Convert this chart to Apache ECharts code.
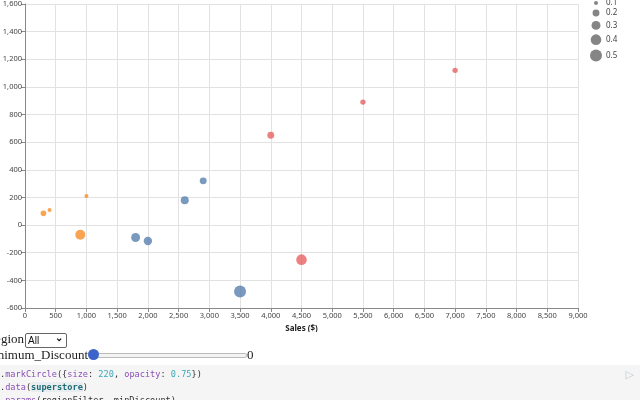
<!DOCTYPE html>
<html>
<head>
<meta charset="utf-8">
<script src="https://cdn.jsdelivr.net/npm/echarts@6/dist/echarts.min.js"></script>
<style>
  body { margin: 0; width: 640px; height: 400px; overflow: hidden; background: #fff; position: relative; }
  #chart { position: absolute; left: 0; top: 0; width: 640px; height: 332px; }
  .ctl { position: absolute; font-family: "Liberation Serif", "DejaVu Serif", serif; font-size: 13px; color: #222; white-space: nowrap; }
  #regionLbl { right: 616px; top: 331px; }
  #regionSel { position: absolute; left: 25px; top: 333px; width: 38px; height: 13px; border: 1px solid #666; border-radius: 2px;
    font-family: "Liberation Sans", sans-serif; font-size: 10px; line-height: 13px; padding-left: 2px; color: #111; background: #fff; }
  #regionSel span { position: absolute; right: 3px; top: -3px; font-size: 10px; font-weight: bold; }
  #discLbl { right: 552px; top: 347px; }
  #track { position: absolute; left: 90px; top: 353px; width: 155px; height: 3px; border: 1px solid #bbb; border-radius: 2px; background: #f3f3f3; }
  #knob { position: absolute; left: 88px; top: 349px; width: 11px; height: 11px; border-radius: 50%; background: #3b63c9; }
  #discVal { left: 247px; top: 347px; }
  #code { position: absolute; left: 0; top: 365px; width: 640px; height: 35px; background: #f5f5f5; }
  #code pre { margin: 0; position: absolute; left: 0; top: 3px; font-family: "DejaVu Sans Mono", monospace; font-size: 8.6px; line-height: 13px; color: #333; }
  .m { color: #8a4fb8; }
  .n { color: #3aa9b8; }
  .v { color: #1f6b75; font-weight: bold; background: #e8eef0; }
  #play { position: absolute; right: 6px; top: 3px; color: #c8c8c8; font-size: 11px; font-family: "DejaVu Sans", sans-serif; }
</style>
</head>
<body>
<div id="chart"></div>
<div class="ctl" id="regionLbl">Region</div>
<div id="regionSel">All<span>&#8964;</span></div>
<div class="ctl" id="discLbl">Minimum_Discount</div>
<div id="track"></div>
<div id="knob"></div>
<div class="ctl" id="discVal">0</div>
<div id="code"><pre>.<span class="m">markCircle</span>({<span class="m">size</span>: <span class="n">220</span>, <span class="m">opacity</span>: <span class="n">0.75</span>})
.<span class="m">data</span>(<span class="v">superstore</span>)
.<span class="m">params</span>(regionFilter, minDiscount)</pre><div id="play">&#9655;</div></div>
<script>
// 数据（按区域分组）：Sales, Profit, Discount
var centralSales = [300, 400, 1000, 900];
var centralProfit = [85, 110, 210, -70];
var centralDiscount = [0.15, 0.1, 0.1, 0.36];

var eastSales = [1800, 2000, 2600, 2900, 3500];
var eastProfit = [-90, -115, 180, 320, -480];
var eastDiscount = [0.3, 0.27, 0.25, 0.2, 0.5];

var westSales = [4000, 4500, 5500, 7000];
var westProfit = [650, -250, 890, 1120];
var westDiscount = [0.2, 0.4, 0.14, 0.14];

var legendValues = [0.1, 0.2, 0.3, 0.4, 0.5];

// 折扣 -> 圆的直径（按面积线性）
function dia(d) {
    return Math.sqrt(Math.max(320 * d - 16, 4));
}

function pack(xs, ys, ds) {
    var out = [];
    for (var i = 0; i < xs.length; i++) out.push([xs[i], ys[i], ds[i]]);
    return out;
}

function makeSeries(name, color, xs, ys, ds) {
    return {
        name: name,
        type: 'scatter',
        data: pack(xs, ys, ds),
        symbolSize: function (v) { return dia(v[2]); },
        itemStyle: { color: color, opacity: 0.75 }
    };
}

var fmt = function (v) { return v.toLocaleString('en-US'); };

// 图例（尺寸）
var legendItems = [];
var ly = 3;
for (var i = 0; i < legendValues.length; i++) {
    if (i > 0) ly += (dia(legendValues[i - 1]) + dia(legendValues[i])) / 2 + 4.5;
    legendItems.push({
        type: 'circle',
        shape: { cx: 596, cy: ly, r: dia(legendValues[i]) / 2 },
        style: { fill: '#666', opacity: 0.8 }
    });
    legendItems.push({
        type: 'text',
        x: 606, y: ly,
        style: { text: String(legendValues[i]), fill: '#444', font: '8px "Noto Sans", sans-serif', verticalAlign: 'middle' }
    });
}

var option = {
    animation: false,
    grid: { left: 25, right: 62, top: 4, bottom: 24, outerBoundsMode: 'none', containLabel: false },
    xAxis: {
        type: 'value',
        min: 0, max: 9000, interval: 500,
        name: 'Sales ($)',
        nameLocation: 'middle',
        nameGap: 15,
        nameTextStyle: { fontSize: 8, fontWeight: 'bold', color: '#222', fontFamily: 'Noto Sans' },
        axisLine: { onZero: false, lineStyle: { color: '#888' } },
        axisTick: { show: true, length: 4, lineStyle: { color: '#888' } },
        axisLabel: { fontSize: 7.5, color: '#444', margin: 4, fontFamily: 'Noto Sans', formatter: fmt },
        splitLine: { show: true, lineStyle: { color: '#e2e2e2' } }
    },
    yAxis: {
        type: 'value',
        min: -600, max: 1600, interval: 200,
        axisLine: { show: true, onZero: false, lineStyle: { color: '#888' } },
        axisTick: { show: true, length: 4, lineStyle: { color: '#888' } },
        axisLabel: { fontSize: 7.5, color: '#444', margin: 3, fontFamily: 'Noto Sans', formatter: fmt },
        splitLine: { show: true, lineStyle: { color: '#e2e2e2' } }
    },
    graphic: legendItems,
    series: [
        makeSeries('Central', '#f58518', centralSales, centralProfit, centralDiscount),
        makeSeries('East', '#4c78a8', eastSales, eastProfit, eastDiscount),
        makeSeries('West', '#e45756', westSales, westProfit, westDiscount)
    ]
};

var chart = echarts.init(document.getElementById('chart'));
chart.setOption(option);
</script>
</body>
</html>
